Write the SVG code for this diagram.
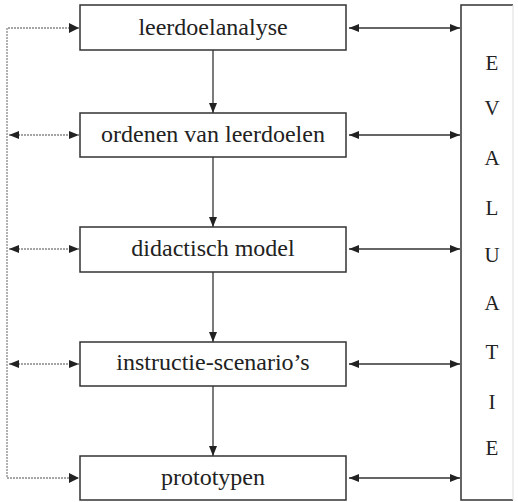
<svg xmlns="http://www.w3.org/2000/svg" width="518" height="502" viewBox="0 0 518 502">
<style>
.box{fill:#fff;stroke:#333;stroke-width:1.5}
.lbl{font-family:'Liberation Serif','Times New Roman',serif;font-size:24px;fill:#222;text-anchor:middle}
.ev{font-family:'Liberation Serif','Times New Roman',serif;font-size:21px;fill:#222;text-anchor:middle}
.solid{stroke:#333;stroke-width:1.3;fill:none}
.dot{stroke:#888;stroke-width:1.3;fill:none;stroke-dasharray:2 1}
</style>
<defs>
<marker id="ah" markerWidth="10" markerHeight="10" viewBox="0 0 10 10" refX="10" refY="5" orient="auto-start-reverse" markerUnits="userSpaceOnUse">
<path d="M0,1 L10,5 L0,9 Z" fill="#222"/>
</marker>
</defs>
<rect width="518" height="502" fill="#fff"/>
<g id="connectors">
<line class="solid" x1="213" y1="50" x2="213" y2="113" marker-end="url(#ah)"/>
<line class="solid" x1="213" y1="157" x2="213" y2="227" marker-end="url(#ah)"/>
<line class="solid" x1="213" y1="272" x2="213" y2="342" marker-end="url(#ah)"/>
<line class="solid" x1="213" y1="386" x2="213" y2="456" marker-end="url(#ah)"/>
<line class="solid" x1="349" y1="28" x2="460" y2="28" marker-start="url(#ah)" marker-end="url(#ah)"/>
<line class="solid" x1="349" y1="135" x2="460" y2="135" marker-start="url(#ah)" marker-end="url(#ah)"/>
<line class="solid" x1="349" y1="249" x2="460" y2="249" marker-start="url(#ah)" marker-end="url(#ah)"/>
<line class="solid" x1="349" y1="364" x2="460" y2="364" marker-start="url(#ah)" marker-end="url(#ah)"/>
<line class="solid" x1="349" y1="478" x2="460" y2="478" marker-start="url(#ah)" marker-end="url(#ah)"/>
<path class="dot" d="M79,28 L7,28 L7,478 L79,478"/>
<path d="M69,23 L79,28 L69,33 Z" fill="#222"/>
<path d="M69,473 L79,478 L69,483 Z" fill="#222"/>
<line class="dot" x1="9" y1="135" x2="79" y2="135" marker-start="url(#ah)" marker-end="url(#ah)"/>
<line class="dot" x1="9" y1="249" x2="79" y2="249" marker-start="url(#ah)" marker-end="url(#ah)"/>
<line class="dot" x1="9" y1="364" x2="79" y2="364" marker-start="url(#ah)" marker-end="url(#ah)"/>
</g>
<g id="n1"><rect class="box" x="80" y="5" width="266" height="45"/><text class="lbl" x="213" y="35">leerdoelanalyse</text></g>
<g id="n2"><rect class="box" x="80" y="113" width="266" height="44"/><text class="lbl" x="213" y="142">ordenen van leerdoelen</text></g>
<g id="n3"><rect class="box" x="80" y="227" width="266" height="45"/><text class="lbl" x="213" y="256">didactisch model</text></g>
<g id="n4"><rect class="box" x="80" y="342" width="266" height="44"/><text class="lbl" x="213" y="370">instructie-scenario’s</text></g>
<g id="n5"><rect class="box" x="80" y="456" width="266" height="44"/><text class="lbl" x="213" y="485">prototypen</text></g>
<g id="evaluatie">
<rect x="461" y="5" width="52" height="495" fill="#fff"/>
<path d="M513,5 L461,5 L461,500 L513,500" fill="none" stroke="#333" stroke-width="1.5"/>
<line x1="513" y1="5" x2="513" y2="500" stroke="#ddd" stroke-width="1"/>
<text class="ev" x="492" y="70">E</text>
<text class="ev" x="492" y="115">V</text>
<text class="ev" x="492" y="165">A</text>
<text class="ev" x="492" y="215">L</text>
<text class="ev" x="492" y="262">U</text>
<text class="ev" x="492" y="310">A</text>
<text class="ev" x="492" y="359">T</text>
<text class="ev" x="492" y="409">I</text>
<text class="ev" x="492" y="455">E</text>
</g>
</svg>
